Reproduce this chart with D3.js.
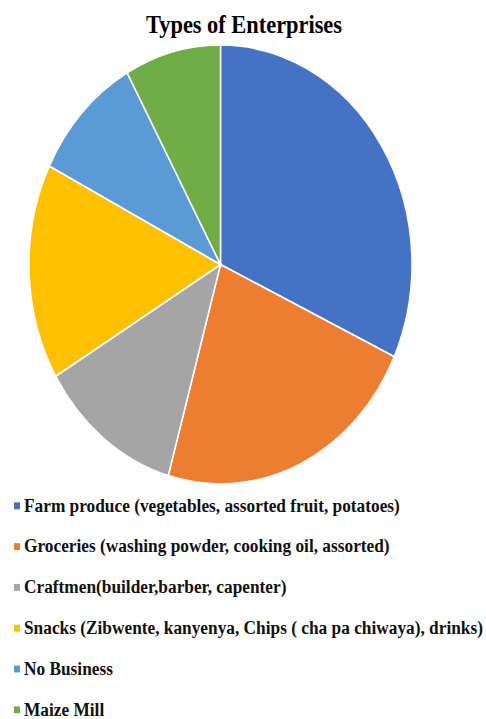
<!DOCTYPE html>
<html>
<head>
<meta charset="utf-8">
<script src="https://cdn.jsdelivr.net/npm/d3@7"></script>
<style>
  body { margin: 0; background: #fff; }
</style>
</head>
<body>
<div id="chart"></div>
<script>
// data
var categories = [
  "Farm produce (vegetables, assorted fruit, potatoes)",
  "Groceries (washing powder, cooking oil, assorted)",
  "Craftmen(builder,barber, capenter)",
  "Snacks (Zibwente, kanyenya, Chips ( cha pa chiwaya), drinks)",
  "No Business",
  "Maize Mill"
];
var values = [31.9, 22.5, 12.1, 15.9, 9.5, 8.1];
var colors = ["#4472C4", "#ED7D31", "#A5A5A5", "#FFC000", "#5B9BD5", "#70AD47"];

var width = 486, height = 719;
var sy = 1.14; // picture is stretched vertically

var svg = d3.select("#chart")
  .append("svg")
    .attr("width", width)
    .attr("height", height);

// title
svg.append("g")
    .attr("transform", "translate(244,33) scale(1," + sy + ")")
  .append("text")
    .attr("text-anchor", "middle")
    .attr("font-family", "Liberation Serif, Times New Roman, serif")
    .attr("font-weight", "bold")
    .attr("font-size", 22.4)
    .text("Types of Enterprises");

// pie
var radius = 191.5;
var pie = d3.pie().sort(null).value(function(d) { return d; });
var arc = d3.arc().innerRadius(0).outerRadius(radius);

var pieG = svg.append("g")
    .attr("transform", "translate(220.5,264.5) scale(1," + (219.5 / radius) + ")");

pieG.selectAll("path")
  .data(pie(values))
  .enter()
  .append("path")
    .attr("d", arc)
    .style("fill", function(d, i) { return colors[i]; })
    .style("stroke", "#fff")
    .style("stroke-width", 1.5);

// legend
var legend = svg.selectAll(".legend")
  .data(categories)
  .enter()
  .append("g")
    .attr("class", "legend")
    .attr("transform", function(d, i) {
      return "translate(0," + (511.5 + i * 40.8) + ") scale(1," + sy + ")";
    });

legend.append("rect")
    .attr("x", 14)
    .attr("y", -8)
    .attr("width", 6)
    .attr("height", 6)
    .style("fill", function(d, i) { return colors[i]; });

legend.append("text")
    .attr("x", 24)
    .attr("y", 0)
    .attr("font-family", "Liberation Serif, Times New Roman, serif")
    .attr("font-weight", "bold")
    .attr("font-size", 17.3)
    .attr("fill", "#111")
    .text(function(d) { return d; });
</script>
</body>
</html>
